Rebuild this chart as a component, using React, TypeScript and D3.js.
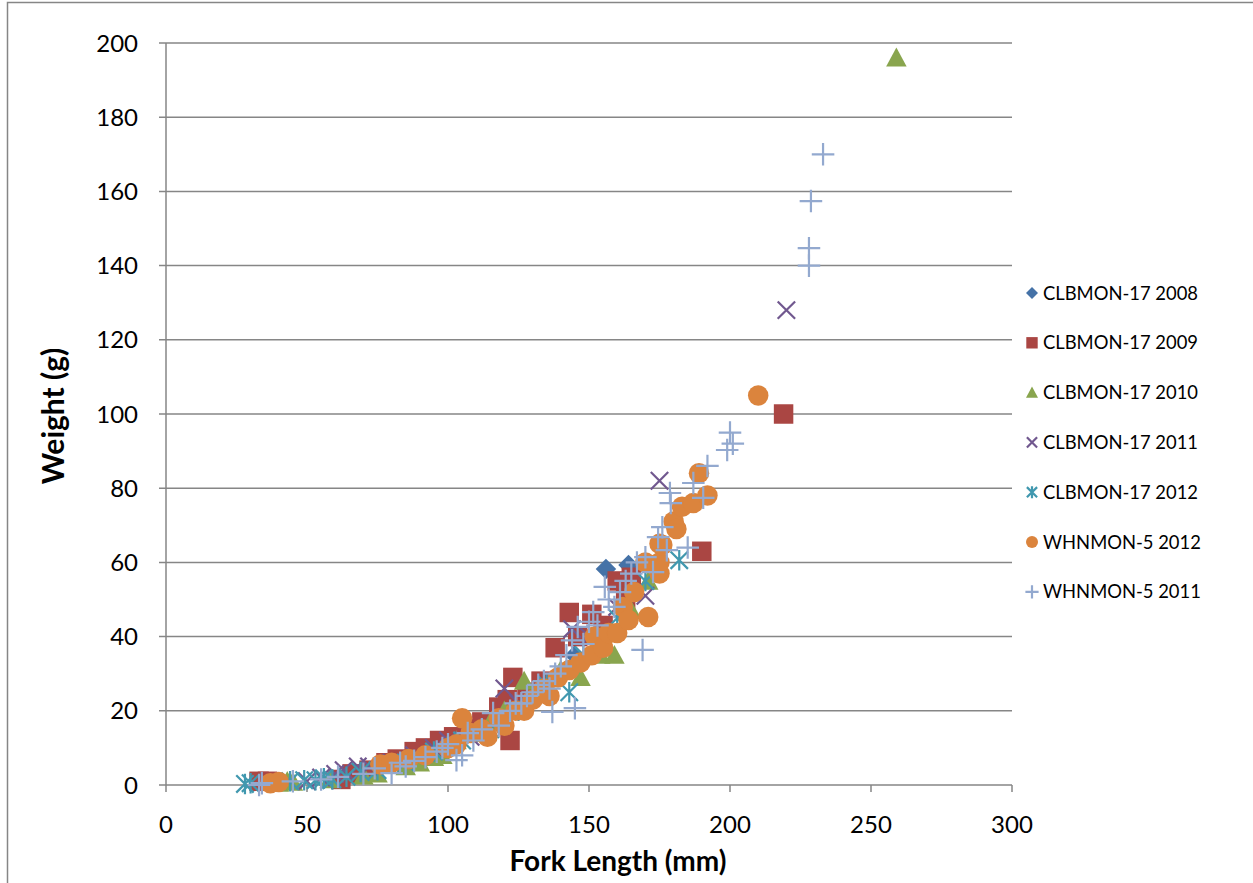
import React from "react";
import * as d3 from "d3";

const seriesNames = [
  "CLBMON-17 2008",
  "CLBMON-17 2009",
  "CLBMON-17 2010",
  "CLBMON-17 2011",
  "CLBMON-17 2012",
  "WHNMON-5 2012",
  "WHNMON-5 2011",
];

const xTicks = [0, 50, 100, 150, 200, 250, 300];
const yTicks = [0, 20, 40, 60, 80, 100, 120, 140, 160, 180, 200];

// [fork length mm, weight g]
const clb2008: [number, number][] = [
  [110, 14], [130, 24], [145, 35], [156, 58.2], [164, 59.3],
];
const clb2009: [number, number][] = [
  [33, 1], [36, 1], [62, 1.5], [66, 3], [72, 4], [78, 6], [82, 7], [88, 9], [92, 10],
  [97, 12], [102, 13], [108, 15], [112, 17], [118, 21], [121, 23], [122, 12], [123, 29],
  [128, 25], [133, 28], [138, 37], [143, 46.5], [146, 40], [151, 46], [155, 43],
  [160, 55], [163, 50], [165, 56], [190, 63], [219, 100],
];
const clb2010: [number, number][] = [
  [40, 0.5], [43, 1], [45, 0.8], [58, 1.5], [70, 2.5], [75, 3], [85, 5], [90, 6],
  [95, 7.5], [98, 8], [100, 11], [103, 12], [110, 14], [115, 17], [120, 20], [127, 28],
  [133, 26], [140, 31], [147, 29], [154, 35], [159, 35], [165, 47], [171, 55], [259, 196],
];
const clb2011: [number, number][] = [
  [50, 1], [55, 2], [60, 3], [63, 4], [68, 5], [72, 5], [80, 6], [88, 8], [95, 10],
  [100, 12], [108, 13], [112, 14], [120, 26], [125, 22], [135, 27], [144, 42], [150, 40],
  [160, 48], [170, 51], [175, 82], [220, 128],
];
const clb2012: [number, number][] = [
  [28, 0.3], [30, 0.5], [44, 1], [49, 1.3], [53, 1.3], [56, 1.8], [59, 1.5], [64, 2.2],
  [69, 3.5], [75, 4], [85, 6], [95, 9], [105, 12], [115, 15], [125, 20], [135, 27],
  [143, 25], [148, 35], [160, 45], [170, 55], [182, 60.6],
];
const whn2012: [number, number][] = [
  [37, 0.5], [40, 0.8], [76, 5.5], [80, 6], [86, 7], [92, 8], [100, 10], [103, 11],
  [105, 18], [108, 14], [112, 15], [114, 13], [118, 18], [120, 16], [124, 20], [127, 20],
  [130, 23], [134, 26], [136, 24], [139, 29], [143, 31], [147, 33], [151, 35], [152, 40],
  [155, 37], [157, 41], [160, 41], [162, 48], [164, 44.5], [166, 52], [170, 60],
  [171, 45.3], [175, 57], [175, 60], [175, 65], [176, 64.7], [180, 71], [181, 69],
  [183, 75], [187, 76], [189, 84], [192, 78], [210, 105],
];
const whn2011: [number, number][] = [
  [33, 0], [34, 0.5], [45, 1], [55, 1.5], [61, 2.2], [70, 3], [74, 4.5], [80, 3.2],
  [83, 6], [85, 5], [88, 6.5], [92, 7.5], [96, 9], [98, 10], [100, 11], [103, 6.7],
  [105, 8], [107, 14], [109, 12], [112, 15], [116, 19.4], [118, 16], [122, 20], [124, 22],
  [126, 22], [128, 24], [130, 25], [132, 27], [134, 28], [136, 26], [137, 19.7], [138, 30],
  [140, 32], [142, 35], [144, 39], [145, 20.7], [146, 42.6], [148, 38], [150, 44],
  [151.5, 46.6], [153, 43], [155.6, 53.4], [157, 50], [159, 48], [161, 52], [163, 55],
  [165, 57], [167, 60], [169, 36.4], [170, 61.4], [172.7, 57.4], [174.5, 66.8], [176, 69.5],
  [177.6, 63.3], [179, 76], [178.7, 78.7], [185, 64], [187, 81.4], [190.5, 77.4], [192, 86],
  [199, 90.3], [200, 95], [201, 92], [228, 140], [228, 144.7], [228.7, 157.4], [233, 170],
];

const seriesData = [clb2008, clb2009, clb2010, clb2011, clb2012, whn2012, whn2011];
const colors = ["#4572A7", "#AA4643", "#89A54E", "#71588F", "#4198AF", "#DB843D", "#93A9CF"];
const shapes = ["diamond", "square", "triangle", "x", "star", "circle", "plus"];

const W = 1253;
const H = 883;
const plot = { left: 166, right: 1012, top: 43, bottom: 785 };
const font = "Lato, 'Open Sans', sans-serif";

function Marker({ shape, color, x, y, s }: { shape: string; color: string; x: number; y: number; s: number }) {
  const r = s / 2;
  if (shape === "diamond") {
    return <path d={`M${x},${y - r}L${x + r},${y}L${x},${y + r}L${x - r},${y}Z`} fill={color} />;
  }
  if (shape === "square") {
    return <rect x={x - r * 0.95} y={y - r * 0.95} width={r * 1.9} height={r * 1.9} fill={color} />;
  }
  if (shape === "triangle") {
    return <path d={`M${x},${y - r}L${x + r},${y + r * 0.85}L${x - r},${y + r * 0.85}Z`} fill={color} />;
  }
  if (shape === "circle") {
    return <circle cx={x} cy={y} r={r} fill={color} />;
  }
  const k = r * 0.85;
  if (shape === "x") {
    return (
      <path d={`M${x - k},${y - k}L${x + k},${y + k}M${x - k},${y + k}L${x + k},${y - k}`} stroke={color} strokeWidth={2.2} fill="none" />
    );
  }
  if (shape === "star") {
    return (
      <path
        d={`M${x - k},${y - k}L${x + k},${y + k}M${x - k},${y + k}L${x + k},${y - k}M${x},${y - r}L${x},${y + r}`}
        stroke={color}
        strokeWidth={2.2}
        fill="none"
      />
    );
  }
  // plus
  return (
    <path d={`M${x - r * 1.1},${y}L${x + r * 1.1},${y}M${x},${y - r * 1.1}L${x},${y + r * 1.1}`} stroke={color} strokeWidth={2.2} fill="none" />
  );
}

export default function App() {
  const x = d3.scaleLinear().domain([0, 300]).range([plot.left, plot.right]);
  const y = d3.scaleLinear().domain([0, 200]).range([plot.bottom, plot.top]);
  const legendY0 = 293;
  const legendStep = 49.8;
  return (
    <svg width={W} height={H} style={{ position: "absolute", left: 0, top: 0, background: "#fff" }} fontFamily={font}>
      <rect x={7.5} y={2.5} width={W + 10} height={H + 10} fill="#fff" stroke="#868686" strokeWidth={1.5} />
      {yTicks.map((t) => (
        <g key={"y" + t}>
          <line x1={plot.left - 7} x2={plot.right} y1={y(t)} y2={y(t)} stroke="#868686" strokeWidth={1.5} />
          <text x={138} y={y(t)} dy="0.36em" textAnchor="end" fontSize={24} fill="#000">
            {t}
          </text>
        </g>
      ))}
      <line x1={plot.left} x2={plot.left} y1={plot.top} y2={plot.bottom} stroke="#868686" strokeWidth={1.5} />
      {xTicks.map((t) => (
        <g key={"x" + t}>
          <line x1={x(t)} x2={x(t)} y1={plot.bottom} y2={plot.bottom + 7} stroke="#868686" strokeWidth={1.5} />
          <text x={x(t)} y={833} textAnchor="middle" fontSize={24} fill="#000">
            {t}
          </text>
        </g>
      ))}
      {seriesData.map((data, i) => (
        <g key={"s" + i}>
          {data.map((d, j) => (
            <Marker key={j} shape={shapes[i]} color={colors[i]} x={x(d[0])} y={y(d[1])} s={20.5} />
          ))}
        </g>
      ))}
      <text x={618} y={871} textAnchor="middle" fontSize={28} fontWeight="bold" fill="#000">
        Fork Length (mm)
      </text>
      <text transform={`translate(64,416) rotate(-90)`} textAnchor="middle" fontSize={30} fontWeight="bold" fill="#000">
        Weight (g)
      </text>
      {seriesNames.map((n, i) => (
        <g key={"l" + i}>
          <Marker shape={shapes[i]} color={colors[i]} x={1032} y={legendY0 + i * legendStep} s={12} />
          <text x={1043} y={legendY0 + i * legendStep} dy="0.36em" fontSize={18.4} fill="#000">
            {n}
          </text>
        </g>
      ))}
    </svg>
  );
}
